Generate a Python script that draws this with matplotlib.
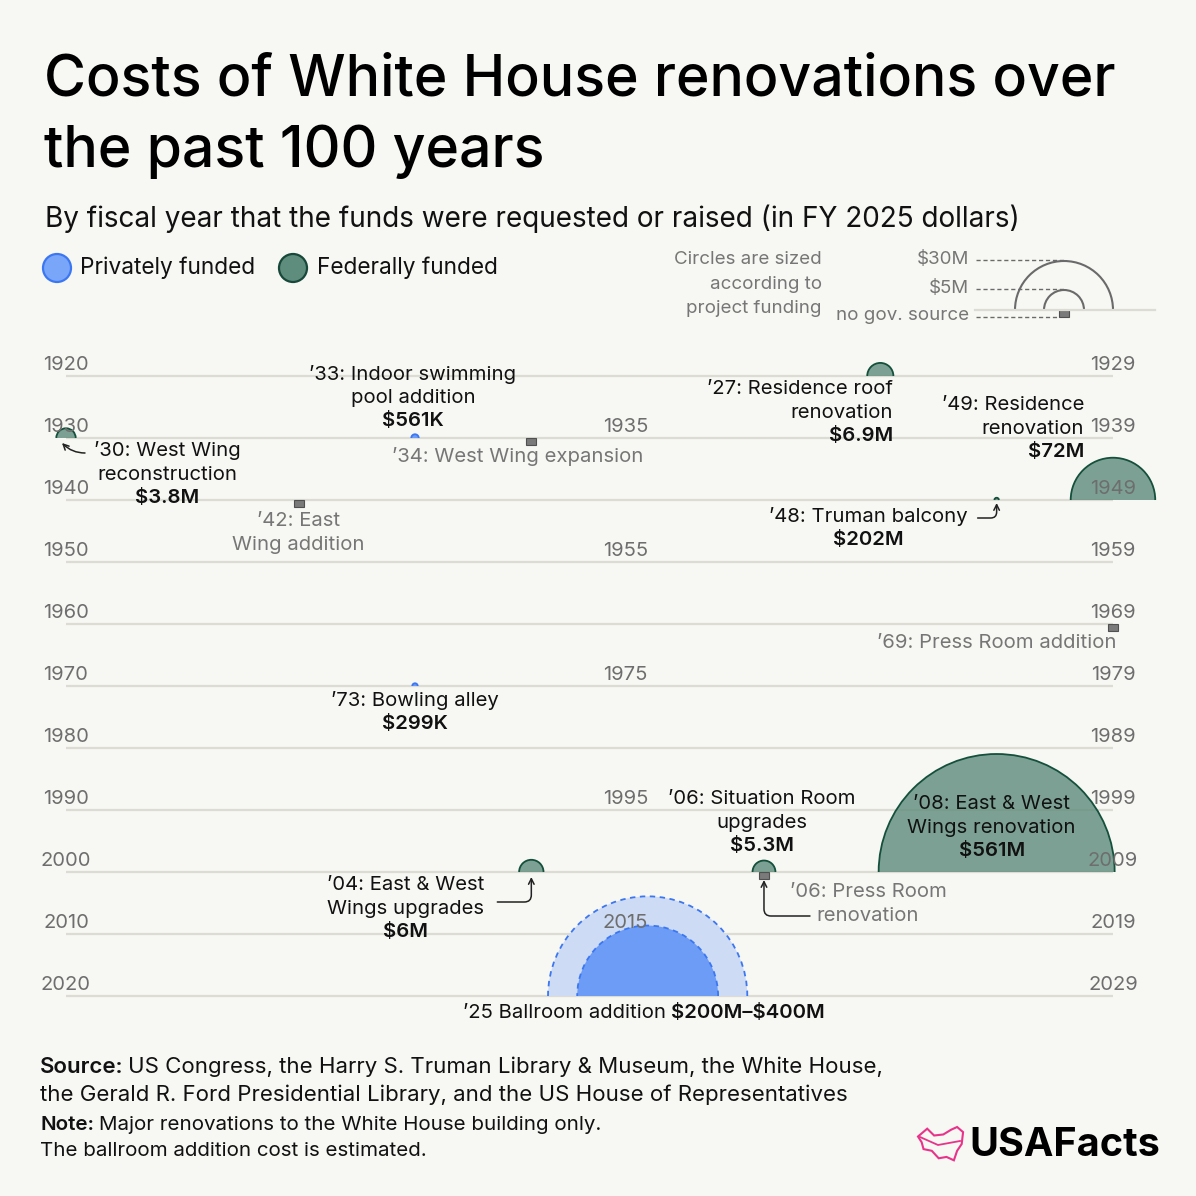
# -*- coding: utf-8 -*-
import matplotlib
matplotlib.use("Agg")
from matplotlib import pyplot as plt
from matplotlib.patches import Wedge, Arc, Rectangle, Circle, Polygon
from matplotlib.transforms import ScaledTranslation
from matplotlib.lines import Line2D

plt.rcParams['font.family'] = ['Inter', 'DejaVu Sans']

# Данные: десятилетия (строки графика)
decades = [1920, 1930, 1940, 1950, 1960, 1970, 1980, 1990, 2000, 2010, 2020]

# Проекты: год, стоимость (млн $, в долларах 2025), источник финансирования
years = [1927, 1930, 1933, 1934, 1942, 1948, 1949, 1969, 1973, 2004, 2006, 2006, 2008]
values_m = [6.9, 3.8, 0.561, None, None, 0.202, 72, None, 0.299, 6, 5.3, None, 561]
funding = ['fed', 'fed', 'priv', 'none', 'none', 'fed', 'fed', 'none', 'priv', 'fed', 'fed', 'none', 'fed']

# Бальный зал 2025 (оценка, диапазон)
ballroom_year = 2025
ballroom_range_m = [200, 400]

# Ключ размеров
key_values = ['$30M', '$5M', 'no gov. source']

BG = '#f7f7f3'
LINE = '#dcdcd5'
YEAR_C = '#6e6e6e'
DARK = '#111111'
GREY_T = '#767676'
FED_FILL = '#5e8c7c'
FED_EDGE = '#15503c'
PRIV_FILL = '#6d9cf7'
PRIV_EDGE = '#3b77f2'
PINK = '#e8338a'

W = 1196
PX_YEAR = 116.33   # пикселей на год
PX_ROW = 62        # пикселей на десятилетие
R_REF = 118        # радиус (px) для $561M
V_REF = 561
FS = 14.6          # подписи проектов
FS_YEAR = 14.5


def fx(px):
    return px / W


def fy(py):
    return 1 - py / W


def pos(year):
    return year % 10, (year // 10 * 10 - decades[0]) / 10


def radius(v):
    return R_REF * (v / V_REF) ** 0.5


fig = plt.figure(figsize=(W / 100, W / 100), dpi=100)
fig.patch.set_facecolor(BG)
ax = fig.add_axes([0, 0, 1, 1])
ax.set_axis_off()
ax.set_autoscale_on(False)
ax.set_xlim(-66 / PX_YEAR, (W - 66) / PX_YEAR)
ax.set_ylim((W - 376) / PX_ROW, -376 / PX_ROW)


def local(x, y):
    # координаты в дюймах (1 px = 0.01) относительно точки данных
    return fig.dpi_scale_trans + ScaledTranslation(x, y, ax.transData)


def half_disc(x, y, r, fill, edge, alpha=1.0, ls='-', z=3):
    tr = local(x, y)
    ax.add_patch(Wedge((0, 0), r / 100, 0, 180, transform=tr, facecolor=fill,
                       edgecolor='none', alpha=alpha, zorder=z, clip_on=False))
    ax.add_patch(Arc((0, 0), 2 * r / 100, 2 * r / 100, theta1=0, theta2=180, transform=tr,
                     color=edge, lw=1.3, ls=ls, zorder=z + 0.1, clip_on=False))


def no_source(x, y):
    ax.add_patch(Rectangle((-5 / 100, -6.5 / 100), 10 / 100, 6.5 / 100, transform=local(x, y),
                           facecolor='#7a7a7a', edgecolor='#505050', lw=0.8, zorder=4, clip_on=False))


# Линии десятилетий и подписи годов
for i, d in enumerate(decades):
    ax.plot([0, 9], [i, i], color=LINE, lw=1.6, zorder=1, solid_capstyle='butt')
    ax.annotate(str(d), (0, i), xytext=(0, 11), textcoords='offset pixels', ha='center',
                va='center', fontsize=FS_YEAR, color=YEAR_C, zorder=6)
    ax.annotate(str(d + 9), (9, i), xytext=(0, 11), textcoords='offset pixels', ha='center',
                va='center', fontsize=FS_YEAR, color=YEAR_C, zorder=6)
    if i % 2 == 1:
        ax.annotate(str(d + 5), (4.81, i), xytext=(0, 11), textcoords='offset pixels',
                    ha='center', va='center', fontsize=FS_YEAR, color=YEAR_C, zorder=6)

# Метки проектов
for yr, v, f in zip(years, values_m, funding):
    x, y = pos(yr)
    if f == 'none':
        no_source(x, y)
    elif f == 'fed':
        half_disc(x, y, radius(v), FED_FILL, FED_EDGE, alpha=0.8)
    else:
        half_disc(x, y, radius(v), PRIV_FILL, PRIV_EDGE)

bx, by = pos(ballroom_year)
half_disc(bx, by, radius(ballroom_range_m[1]), '#cddbf4', PRIV_EDGE, ls=(0, (3, 2.5)), z=2.5)
half_disc(bx, by, radius(ballroom_range_m[0]), PRIV_FILL, PRIV_EDGE, ls=(0, (3, 2.5)), z=2.7)

# Подписи: год, строки, цвет, выравнивание, смещение (px)
notes = [
    (1933, ["’33: Indoor swimming", "pool addition", "$561K"], DARK, 'center', -2, -64),
    (1930, ["’30: West Wing", "reconstruction", "$3.8M"], DARK, 'center', 101, 13),
    (1934, ["’34: West Wing expansion"], GREY_T, 'left', -139, 19),
    (1927, ["’27: Residence roof", "renovation", "$6.9M"], DARK, 'right', 13, 13),
    (1949, ["’49: Residence", "renovation", "$72M"], DARK, 'right', -29, -95),
    (1948, ["’48: Truman balcony", "$202M"], DARK, 'center', -128, 16),
    (1942, ["’42: East", "Wing addition"], GREY_T, 'center', 0, 21),
    (1969, ["’69: Press Room addition"], GREY_T, 'right', 4, 19),
    (1973, ["’73: Bowling alley", "$299K"], DARK, 'center', 0, 14),
    (2006, ["’06: Situation Room", "upgrades", "$5.3M"], DARK, 'center', -2, -73),
    (2008, ["’08: East & West", "Wings renovation", "$561M"], DARK, 'center', -5, -68),
    (2004, ["’04: East & West", "Wings upgrades", "$6M"], DARK, 'center', -126, 13),
    (2006, ["’06: Press Room", "renovation"], GREY_T, 'center', 104, 20),
]
for yr, lines, col, ha, dx, dy in notes:
    x, y = pos(yr)
    for k, s in enumerate(lines):
        bold = s.startswith('$')
        ax.annotate(s, (x, y), xytext=(dx, -(dy + 23.7 * k)), textcoords='offset pixels',
                    ha=ha, va='center', fontsize=FS, color=col,
                    fontweight='semibold' if bold else 'normal', zorder=7)

t1 = ax.annotate("’25 Ballroom addition", (bx, by), xytext=(18, -17), textcoords='offset pixels',
                 ha='right', va='center', fontsize=FS, color=DARK, zorder=7)
ax.annotate(r"\$200M–\$400M", (1, 0), xycoords=t1, xytext=(5, 0), textcoords='offset pixels',
            ha='left', va='bottom', fontsize=FS, color=DARK, fontweight='semibold', zorder=7)

# Стрелки (смещения в px относительно метки, ось y вверх)
arrow = dict(arrowstyle='->', color='#222222', lw=1.1, shrinkA=0, shrinkB=0)
arrows = [
    (1930, (19, -15), (-4, -5), 'angle3,angleA=0,angleB=-45'),
    (1948, (-19, -18), (0, -3), 'angle,angleA=0,angleB=90,rad=6'),
    (2004, (-34, -30), (0, -5), 'angle,angleA=0,angleB=90,rad=7'),
    (2006, (46, -44), (0, -8), 'angle,angleA=180,angleB=90,rad=7'),
]
for yr, start, tip, cs in arrows:
    x, y = pos(yr)
    tr = local(x, y)
    ax.annotate('', (tip[0] / 100, tip[1] / 100), xycoords=tr,
                xytext=(start[0] / 100, start[1] / 100), textcoords=tr,
                arrowprops=dict(arrow, connectionstyle=cs), zorder=8)

# Заголовок
fig.text(fx(44), fy(80), "Costs of White House renovations over", fontsize=41.2, fontweight='medium',
         color='#000000', va='center')
fig.text(fx(44), fy(152), "the past 100 years", fontsize=41.2, fontweight='medium',
         color='#000000', va='center')
fig.text(fx(45), fy(219), "By fiscal year that the funds were requested or raised (in FY 2025 dollars)",
         fontsize=20.1, color='#111111', va='center')

# Легенда
fig.add_artist(Circle((fx(57), fy(268)), 14 / W, transform=fig.transFigure,
                      facecolor='#7aa6fa', edgecolor=PRIV_EDGE, lw=1.6))
fig.text(fx(80), fy(268), "Privately funded", fontsize=16.3, color=DARK, va='center')
fig.add_artist(Circle((fx(293), fy(268)), 14 / W, transform=fig.transFigure,
                      facecolor='#5f8d7d', edgecolor='#17483a', lw=1.6))
fig.text(fx(317), fy(268), "Federally funded", fontsize=16.3, color=DARK, va='center')

# Ключ размеров
for k, s in enumerate(["Circles are sized", "according to", "project funding"]):
    fig.text(fx(822), fy(260 + 24 * k), s, fontsize=13.5, color=GREY_T, ha='right', va='center')
key_r = [49, 20]
key_y = [259, 288, 316]
fig.add_artist(Line2D([fx(975), fx(1155)], [fy(310), fy(310)], color=LINE, lw=1.6))
for r in key_r:
    fig.add_artist(Arc((fx(1064), fy(310)), 2 * r / W, 2 * r / W, theta1=0, theta2=180,
                       transform=fig.transFigure, color='#6a6a6a', lw=1.5))
fig.add_artist(Rectangle((fx(1059), fy(316.5)), 10 / W, 6.5 / W, transform=fig.transFigure,
                         facecolor='#7a7a7a', edgecolor='#505050', lw=0.8))
for s, yy, xe in zip(key_values, key_y, [1064, 1064, 1059]):
    fig.text(fx(969), fy(yy), s.replace('$', r'\$'), fontsize=13.5, color=GREY_T, ha='right', va='center')
    fig.add_artist(Line2D([fx(976), fx(xe)], [fy(yy + 1), fy(yy + 1)], color='#6a6a6a',
                          lw=1, ls=(0, (3, 2))))

# Подвал
foot = [("Source:", "US Congress, the Harry S. Truman Library & Museum, the White House,", 1067),
        ("", "the Gerald R. Ford Presidential Library, and the US House of Representatives", 1095),
        ("Note:", "Major renovations to the White House building only.", 1125),
        ("", "The ballroom addition cost is estimated.", 1151)]
for b, s, yy in foot:
    fs = 16 if yy < 1110 else 14.8
    tb = fig.text(fx(40), fy(yy), b, fontsize=fs, fontweight='semibold', color=DARK, va='center')
    if b:
        ax.annotate(s, (1, 0), xycoords=tb, xytext=(5, 0), textcoords='offset pixels',
                    ha='left', va='bottom', fontsize=fs, color=DARK)
    else:
        fig.text(fx(40), fy(yy), s, fontsize=fs, color=DARK, va='center')

# Логотип
icon = [(0.0, 0.72), (0.2, 0.95), (0.35, 0.75), (0.55, 0.78), (0.72, 0.92), (0.85, 1.0),
        (0.98, 0.85), (0.95, 0.5), (0.85, 0.3), (0.78, 0.02), (0.62, 0.12), (0.45, 0.08),
        (0.3, 0.3), (0.12, 0.35), (0.08, 0.55)]
lx0, ly0, lw_, lh_ = 918, 1161, 46, 34
fig.add_artist(Polygon([(fx(lx0 + px * lw_), fy(ly0 - py * lh_)) for px, py in icon],
                       closed=True, fill=False, edgecolor=PINK, lw=1.5, transform=fig.transFigure))
fig.add_artist(Line2D([fx(lx0 + 2), fx(lx0 + 20), fx(lx0 + 42)],
                      [fy(ly0 - 24), fy(ly0 - 16), fy(ly0 - 20)], color=PINK, lw=1.3))
fig.text(fx(969), fy(1145), "USAFacts", fontsize=28.5, fontweight='bold', color='#000000', va='center')

fig.savefig("out.png", dpi=100, facecolor=BG)
